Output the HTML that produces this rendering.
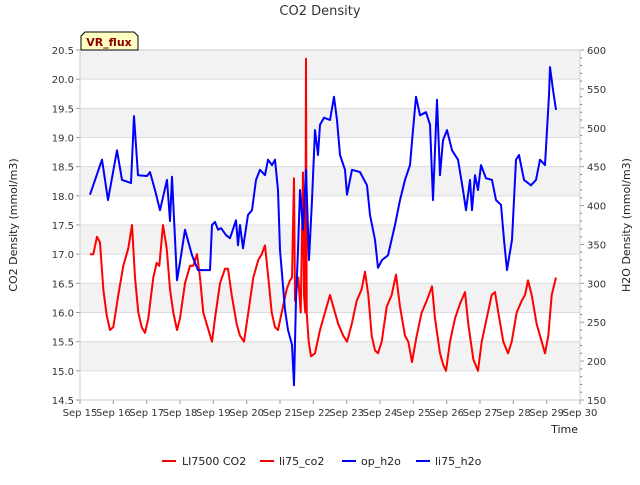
<!DOCTYPE html>
<html><head><meta charset="utf-8"><style>
body{margin:0;background:#fff;font-family:"Liberation Sans",sans-serif}
svg text{font-family:"DejaVu Sans","Liberation Sans",sans-serif}
</style></head><body>
<svg id="c" width="640" height="480" xmlns="http://www.w3.org/2000/svg">
<text x="320" y="15" text-anchor="middle" font-size="13" fill="#333">CO2 Density</text>
<g id="grid"></g>
<g id="series"></g>
<g id="axes"></g>
<text transform="translate(17,225) rotate(-90)" text-anchor="middle" font-size="11" fill="#222">CO2 Density (mmol/m3)</text>
<text transform="translate(630,225) rotate(-90)" text-anchor="middle" font-size="11" fill="#222">H2O Density (mmol/m3)</text>
<text x="578" y="433" text-anchor="end" font-size="11" fill="#222">Time</text>
<g>
<path d="M81,50 L81,36 L85,32 L134,32 L138,36 L138,50 Z" fill="#ffffc4" stroke="#000" stroke-width="1"/>
<text x="109" y="46" text-anchor="middle" font-size="11" font-weight="bold" fill="#8b0000">VR_flux</text>
</g>
<g>
<g><line x1="162" y1="461" x2="176" y2="461" stroke="#e00" stroke-width="2"/><text x="182" y="465" font-size="11" fill="#222">LI7500 CO2</text></g>
<g><line x1="260" y1="461" x2="274" y2="461" stroke="#e00" stroke-width="2"/><text x="279" y="465" font-size="11" fill="#222">li75_co2</text></g>
<g><line x1="342" y1="461" x2="356" y2="461" stroke="#00e" stroke-width="2"/><text x="361" y="465" font-size="11" fill="#222">op_h2o</text></g>
<g><line x1="416" y1="461" x2="430" y2="461" stroke="#00e" stroke-width="2"/><text x="435" y="465" font-size="11" fill="#222">li75_h2o</text></g>
</g>
</svg>
<script>
const xTicks=["Sep 15","Sep 16","Sep 17","Sep 18","Sep 19","Sep 20","Sep 21","Sep 22","Sep 23","Sep 24","Sep 25","Sep 26","Sep 27","Sep 28","Sep 29","Sep 30"];
const yTicks=[14.5,15.0,15.5,16.0,16.5,17.0,17.5,18.0,18.5,19.0,19.5,20.0,20.5];
const y2Ticks=[150,200,250,300,350,400,450,500,550,600];
const co2Days=[15.30,15.40,15.51,15.60,15.70,15.80,15.90,16.00,16.15,16.30,16.45,16.56,16.65,16.75,16.85,16.95,17.05,17.20,17.30,17.38,17.49,17.60,17.70,17.80,17.91,18.00,18.15,18.30,18.40,18.51,18.60,18.70,18.80,18.96,19.05,19.20,19.35,19.44,19.55,19.70,19.80,19.92,20.05,20.20,20.35,20.45,20.55,20.65,20.75,20.85,20.94,21.05,21.20,21.30,21.36,21.42,21.45,21.55,21.62,21.69,21.72,21.76,21.78,21.80,21.86,21.93,22.05,22.20,22.35,22.50,22.60,22.75,22.90,23.01,23.15,23.30,23.45,23.55,23.65,23.75,23.85,23.94,24.05,24.20,24.35,24.48,24.60,24.75,24.85,24.96,25.10,25.25,25.40,25.56,25.65,25.80,25.90,25.98,26.10,26.25,26.40,26.55,26.65,26.80,26.94,27.05,27.20,27.35,27.45,27.55,27.70,27.84,27.95,28.10,28.25,28.35,28.44,28.55,28.70,28.85,28.95,29.05,29.15,29.28];
const co2Vals=[17.0,17.0,17.3,17.2,16.4,15.95,15.7,15.75,16.3,16.8,17.1,17.5,16.6,16.0,15.75,15.65,15.9,16.6,16.85,16.8,17.5,17.1,16.4,16.0,15.7,15.9,16.5,16.8,16.8,17.0,16.6,16.0,15.8,15.5,15.9,16.5,16.75,16.75,16.3,15.8,15.6,15.5,16.0,16.6,16.9,17.0,17.15,16.6,16.0,15.75,15.7,16.0,16.4,16.55,16.6,18.3,16.2,16.6,16.0,18.4,16.3,16.0,20.35,16.0,15.5,15.25,15.3,15.7,16.0,16.3,16.1,15.8,15.6,15.5,15.8,16.2,16.4,16.7,16.3,15.6,15.35,15.3,15.5,16.1,16.3,16.65,16.1,15.6,15.5,15.15,15.6,16.0,16.2,16.45,15.9,15.3,15.1,15.0,15.5,15.9,16.15,16.35,15.8,15.2,15.0,15.5,15.9,16.3,16.35,16.0,15.5,15.3,15.5,16.0,16.2,16.3,16.55,16.3,15.8,15.5,15.3,15.6,16.3,16.6];
const h2oDays=[15.30,15.66,15.84,16.11,16.26,16.53,16.62,16.74,17.01,17.10,17.25,17.40,17.61,17.70,17.76,17.91,18.00,18.15,18.36,18.54,18.69,18.90,18.96,19.05,19.14,19.23,19.38,19.50,19.68,19.74,19.80,19.89,20.04,20.16,20.28,20.40,20.55,20.64,20.76,20.85,20.94,21.00,21.15,21.24,21.36,21.42,21.48,21.54,21.60,21.69,21.78,21.87,21.96,22.05,22.14,22.20,22.32,22.50,22.62,22.71,22.80,22.95,23.01,23.16,23.40,23.61,23.70,23.85,23.94,24.06,24.24,24.45,24.60,24.75,24.90,24.99,25.08,25.20,25.38,25.50,25.59,25.71,25.80,25.89,26.01,26.16,26.34,26.49,26.58,26.70,26.76,26.85,26.94,27.03,27.18,27.36,27.48,27.63,27.72,27.81,27.96,28.08,28.17,28.32,28.53,28.68,28.80,28.95,29.07,29.10,29.19,29.28];
const h2oVals=[414,459,407,471,433,429,515,439,438,443,420,394,433,380,437,304,327,369,336,317,317,317,375,379,369,371,362,358,381,349,375,345,388,394,433,446,439,459,452,459,420,343,266,240,221,169,279,343,420,369,446,330,407,497,465,504,513,510,540,510,465,446,414,446,443,426,388,356,320,330,336,375,407,433,452,497,540,516,520,504,407,536,439,484,497,471,459,420,394,433,394,439,420,452,435,433,407,401,356,317,356,459,465,433,426,433,459,452,542,578,549,523];

const L=80,R=580,T=50,B=400,NS="http://www.w3.org/2000/svg";
const xS=d=>L+(d-15)*(R-L)/15;
const yS=v=>B-(v-14.5)*(B-T)/6;
const y2S=v=>B-(v-150)*(B-T)/450;
function mk(tag,at,parent){const e=document.createElementNS(NS,tag);for(const k in at)e.setAttribute(k,at[k]);parent.appendChild(e);return e;}
const grid=document.getElementById('grid'),axes=document.getElementById('axes'),ser=document.getElementById('series');
for(let i=0;i<yTicks.length-1;i++){
  if(i%2===1){const r=mk('rect',{x:L,y:yS(yTicks[i+1]),width:R-L,height:yS(yTicks[i])-yS(yTicks[i+1]),fill:'#f2f2f2'},grid);
  
  }
}
yTicks.forEach(v=>{
  const g=mk('line',{x1:L,x2:R,y1:yS(v),y2:yS(v),stroke:'#dcdcdc','stroke-width':1},grid);
  
  
  mk('line',{x1:L-4,x2:L,y1:yS(v),y2:yS(v),stroke:'#999'},axes);
  const t=mk('text',{x:L-6,y:yS(v)+4,'text-anchor':'end','font-size':10,fill:'#333'},axes);t.textContent=v.toFixed(1);
  
  
});
y2Ticks.forEach(v=>{
  mk('line',{x1:R,x2:R+4,y1:y2S(v),y2:y2S(v),stroke:'#999'},axes);
  const t=mk('text',{x:R+7,y:y2S(v)+4,'font-size':10,fill:'#333'},axes);t.textContent=v;
  
  
});
for(let v=160;v<600;v+=10){if(v%50)mk('line',{x1:R,x2:R+2,y1:y2S(v),y2:y2S(v),stroke:'#666'},axes);}
xTicks.forEach((s,i)=>{
  const x=xS(15+i);
  mk('line',{x1:x,x2:x,y1:B,y2:B+4,stroke:'#999'},axes);
  const t=mk('text',{x:x,y:B+16,'text-anchor':'middle','font-size':10,fill:'#333'},axes);t.textContent=s;
  
  
});
const fr=mk('rect',{x:L,y:T,width:R-L,height:B-T,fill:'none',stroke:'#ccc'},axes);


const co2=mk('polyline',{points:co2Days.map((d,i)=>xS(d).toFixed(1)+','+yS(co2Vals[i]).toFixed(1)).join(' '),fill:'none',stroke:'#f00','stroke-width':2,'stroke-linejoin':'round'},ser);


const h2o=mk('polyline',{points:h2oDays.map((d,i)=>xS(d).toFixed(1)+','+y2S(h2oVals[i]).toFixed(1)).join(' '),fill:'none',stroke:'#00f','stroke-width':2,'stroke-linejoin':'round'},ser);


</script>
</body></html>
